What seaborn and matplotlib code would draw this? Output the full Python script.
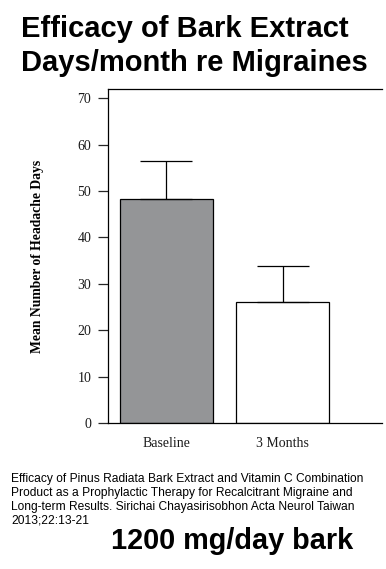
import matplotlib
matplotlib.use("Agg")
import matplotlib.pyplot as plt
import seaborn as sns
import pandas as pd

# data
groups = ["Baseline", "3 Months"]
mean_days = [48.2, 26.0]
upper_err = [8.3, 7.8]
bar_colors = ["#939598", "#ffffff"]
y_ticks = [0, 10, 20, 30, 40, 50, 60, 70]

df = pd.DataFrame({"group": groups, "days": mean_days})

sns.set_style("white")
plt.rcParams['font.family'] = ['Liberation Serif', 'DejaVu Serif']
plt.rcParams['text.color'] = 'black'

fig = plt.figure(figsize=(3.86, 5.69), dpi=100)
ax = fig.add_axes([0.2798, 0.2566, 0.7102, 0.587])

sns.barplot(data=df, x="group", y="days", hue="group",
            palette=dict(zip(groups, bar_colors)), legend=False,
            width=0.8, edgecolor="black", linewidth=0.9,
            errorbar=None, ax=ax)

ax.errorbar(range(len(groups)), mean_days,
            yerr=[[0] * len(groups), upper_err],
            fmt="none", ecolor="black", elinewidth=0.9,
            capsize=19, capthick=0.9)

ax.set_xlim(-0.504, 1.858)
ax.set_ylim(0, 72)
ax.set_yticks(y_ticks)
ax.set_yticklabels([str(t) for t in y_ticks], fontsize=10, color="#1a1a1a")
ax.set_xticks(range(len(groups)))
ax.set_xticklabels(groups, fontsize=10, color="#1a1a1a")
ax.tick_params(axis="y", direction="out", length=7, width=0.9, left=True, pad=5)
ax.tick_params(axis="x", length=0, pad=10)
ax.set_xlabel("")
ax.set_ylabel("Mean Number of Headache Days", fontsize=9.8, fontweight="bold",
              color="black", labelpad=24)

for side in ["left", "top", "bottom"]:
    ax.spines[side].set_visible(True)
    ax.spines[side].set_color("black")
    ax.spines[side].set_linewidth(0.9)
ax.spines["right"].set_visible(False)

# title and notes
sans = ['Liberation Sans', 'DejaVu Sans']
fig.text(21 / 386, 1 - 15 / 569, "Efficacy of Bark Extract\nDays/month re Migraines",
         ha="left", va="top", fontsize=21, fontweight="bold",
         family=sans, linespacing=1.27, color="black")
fig.text(11 / 386, 1 - 473 / 569,
         "Efficacy of Pinus Radiata Bark Extract and Vitamin C Combination\n"
         "Product as a Prophylactic Therapy for Recalcitrant Migraine and\n"
         "Long-term Results. Sirichai Chayasirisobhon Acta Neurol Taiwan\n"
         "2013;22:13-21",
         ha="left", va="top", fontsize=8.65, family=sans, linespacing=1.2,
         color="black")
fig.text(232 / 386, 1 - 541 / 569, "1200 mg/day bark",
         ha="center", va="center", fontsize=20.8, fontweight="bold",
         family=sans, color="black")

fig.savefig("out.png", dpi=100)
